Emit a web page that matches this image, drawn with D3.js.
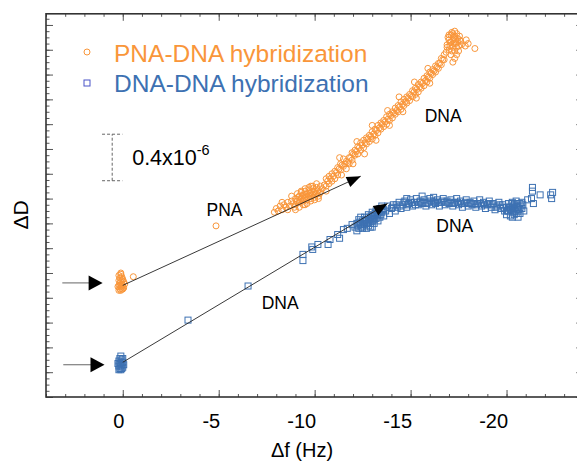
<!DOCTYPE html>
<html>
<head>
<meta charset="utf-8">
<script src="https://cdn.jsdelivr.net/npm/d3@7"></script>
<style>
  body { margin: 0; background: #fff; }
  svg text { font-family: "Liberation Sans", Arial, sans-serif; }
</style>
</head>
<body>
<div id="chart"></div>
<script>
// Δf (Hz), ΔD (x1e-6)
const pnaPoints = [
  // start, Δf ~ 0
  [0.1,0.99],[0.05,0.97],[0.15,0.96],[0.0,0.95],[0.2,0.94],[0.1,0.93],[-0.05,0.93],[0.15,0.92],
  [0.05,0.91],[0.2,0.9],[0.0,0.9],[0.1,0.89],[0.25,0.89],[-0.05,0.88],[0.15,0.87],[0.05,0.87],
  [0.2,0.86],[0.1,0.86],[0.0,0.87],[0.1,1.0],[0.2,0.98],[0.05,0.94],[0.15,0.9],[-0.1,0.91],
  [-0.55,0.97],
  [-4.86,1.38],
  // PNA plateau
  [-7.9,1.49],[-8.0,1.52],[-8.1,1.5],[-8.2,1.54],[-8.3,1.51],[-8.4,1.55],[-8.5,1.53],[-8.6,1.57],
  [-8.7,1.54],[-8.8,1.58],[-8.9,1.56],[-9.0,1.6],[-9.0,1.55],[-9.1,1.58],[-9.2,1.62],[-9.2,1.57],
  [-9.3,1.6],[-9.4,1.63],[-9.4,1.58],[-9.5,1.61],[-9.5,1.66],[-9.6,1.59],[-9.6,1.64],[-9.7,1.62],
  [-9.7,1.67],[-9.8,1.6],[-9.8,1.65],[-9.9,1.63],[-9.9,1.68],[-10.0,1.61],[-10.0,1.66],[-10.1,1.64],
  [-10.1,1.69],[-10.2,1.62],[-10.2,1.67],[-10.3,1.7],[-10.3,1.65],[-10.4,1.68],[-10.5,1.71],[-9.8,1.7],
  [-9.3,1.65],[-8.8,1.62],[-10.6,1.66],[-9.0,1.51],[-9.5,1.55],
  [-9.05,1.58],[-9.15,1.61],[-9.25,1.59],[-9.35,1.62],[-9.45,1.6],[-9.55,1.63],[-9.65,1.61],[-9.75,1.64],
  [-9.85,1.62],[-9.95,1.65],[-10.05,1.63],[-10.15,1.66],[-10.25,1.64],[-9.1,1.64],[-9.3,1.66],[-9.5,1.68],
  [-9.7,1.69],[-9.9,1.7],[-10.1,1.72],[-9.2,1.53],[-9.4,1.55],[-9.6,1.56],[-9.8,1.58],[-10.0,1.59],
  [-10.2,1.6],[-8.6,1.51],[-8.3,1.57],[-8.95,1.53],
  // DNA hybridization
  [-10.6,1.7],[-10.6,1.76],[-10.75,1.78],[-10.75,1.72],[-10.9,1.74],[-10.9,1.8],[-11.05,1.82],[-11.05,1.76],
  [-11.2,1.79],[-11.2,1.85],[-11.35,1.83],[-11.35,1.88],[-11.5,1.86],[-11.5,1.92],[-11.65,1.9],[-11.65,1.84],
  [-11.8,1.93],[-11.8,1.88],[-11.95,1.91],[-11.95,1.97],[-12.1,1.95],[-12.1,1.99],[-12.25,2.02],[-12.25,1.96],
  [-12.4,1.99],[-12.4,2.05],[-12.55,2.07],[-12.55,2.01],[-12.7,2.04],[-12.7,2.09],[-12.85,2.11],[-12.85,2.06],
  [-13.0,2.08],[-13.0,2.14],[-13.15,2.16],[-13.15,2.11],[-13.3,2.13],[-13.3,2.19],[-13.45,2.21],[-13.45,2.16],
  [-13.6,2.18],[-13.6,2.23],[-13.75,2.26],[-13.75,2.2],[-13.9,2.23],[-13.9,2.28],[-14.05,2.3],[-14.05,2.25],
  [-14.2,2.28],[-14.2,2.33],[-14.35,2.35],[-14.35,2.3],[-14.5,2.32],[-14.5,2.38],[-14.65,2.4],[-14.65,2.35],
  [-14.8,2.37],[-14.8,2.42],[-14.95,2.44],[-14.95,2.39],[-15.1,2.42],[-15.1,2.47],[-15.25,2.49],[-15.25,2.44],
  [-15.4,2.46],[-15.4,2.52],[-15.55,2.54],[-15.55,2.49],[-15.7,2.51],[-15.7,2.57],[-15.85,2.59],[-15.85,2.54],
  [-16.0,2.57],[-16.0,2.62],[-16.15,2.64],[-16.15,2.6],[-16.3,2.62],[-16.3,2.67],[-16.45,2.69],[-16.45,2.65],
  [-16.6,2.68],[-16.6,2.73],[-16.75,2.72],[-16.75,2.76],
  [-10.675,1.74],[-10.825,1.76],[-10.975,1.78],[-11.125,1.81],[-11.275,1.84],[-11.425,1.87],[-11.575,1.88],
  [-11.725,1.89],[-11.875,1.93],[-12.025,1.96],[-12.175,1.98],[-12.325,2.01],[-12.475,2.03],[-12.625,2.05],
  [-12.775,2.08],[-12.925,2.1],[-13.075,2.12],[-13.225,2.15],[-13.375,2.17],[-13.525,2.2],[-13.675,2.22],
  [-13.825,2.24],[-13.975,2.27],[-14.125,2.29],[-14.275,2.31],[-14.425,2.34],[-14.575,2.36],[-14.725,2.38],
  [-14.875,2.41],[-15.025,2.43],[-15.175,2.46],[-15.325,2.48],[-15.475,2.5],[-15.625,2.53],[-15.775,2.55],
  [-15.925,2.58],[-16.075,2.61],[-16.225,2.63],[-16.375,2.66],[-16.525,2.69],[-16.675,2.72],
  [-11.4,1.79],[-12.0,1.88],[-12.6,1.96],[-13.2,2.07],[-13.9,2.19],[-14.6,2.3],[-15.3,2.41],[-16.0,2.53],
  [-11.3,1.93],[-12.2,2.06],[-13.0,2.19],[-13.8,2.31],[-14.4,2.42],[-15.2,2.54],[-15.9,2.65],
  // top
  [-16.85,2.78],[-17.0,2.8],[-17.1,2.76],[-17.2,2.82],[-17.3,2.79],[-16.9,2.84],[-17.05,2.86],[-17.2,2.88],
  [-17.35,2.85],[-17.5,2.83],[-16.95,2.9],[-17.1,2.92],[-17.3,2.91],[-17.45,2.89],[-17.6,2.87],[-17.0,2.88],
  [-17.4,2.93],[-17.55,2.91],[-17.15,2.94],[-17.25,2.85],[-17.65,2.84],[-17.5,2.79],[-17.4,2.76],[-17.3,2.73],
  [-17.2,2.7],
  [-16.9,2.82],[-17.05,2.83],[-17.15,2.79],[-17.25,2.9],[-17.35,2.88],[-17.45,2.86],[-17.55,2.88],[-17.0,2.92],
  [-17.2,2.93],[-17.4,2.82],[-17.3,2.95],[-17.1,2.86],
  [-17.85,2.83],[-18.0,2.85],[-18.35,2.81],[-17.9,2.88]
];

const dnaPoints = [
  [0.1,0.33],[0.15,0.31],[0.05,0.3],[0.2,0.29],[0.1,0.28],[0.0,0.28],[0.15,0.27],[0.05,0.26],
  [0.2,0.25],[0.1,0.25],[0.0,0.24],[0.15,0.23],[0.05,0.23],[0.2,0.22],[0.1,0.22],[-0.05,0.26],
  [0.25,0.27],[0.0,0.31],
  [-3.4,0.62],[-6.53,0.895],[-9.39,1.15],[-9.39,1.1],[-9.9,1.19],
  [-9.85,1.21],[-10.17,1.23],[-10.7,1.23],[-10.8,1.27],[-11.2,1.31],[-11.3,1.28],[-11.5,1.35],[-11.7,1.36],
  [-11.95,1.39],
  [-12.1,1.37],[-12.2,1.4],[-12.3,1.36],[-12.3,1.43],[-12.4,1.39],[-12.5,1.42],[-12.5,1.36],[-12.6,1.45],
  [-12.6,1.39],[-12.7,1.42],[-12.8,1.47],[-12.8,1.38],[-12.9,1.44],[-12.9,1.4],[-13.0,1.49],[-13.0,1.42],
  [-13.1,1.46],[-13.1,1.4],[-13.2,1.5],[-13.2,1.44],[-13.3,1.47],[-13.3,1.42],[-13.4,1.52],[-13.4,1.45],
  [-13.5,1.49],[-13.5,1.54],[-13.6,1.51],[-12.7,1.36],[-13.0,1.37],[-12.4,1.45],[-12.2,1.34],[-13.6,1.46],
  [-12.25,1.38],[-12.35,1.41],[-12.45,1.37],[-12.55,1.4],[-12.65,1.43],[-12.75,1.4],[-12.85,1.43],[-12.95,1.46],
  [-13.05,1.44],[-13.15,1.48],[-13.25,1.46],[-13.35,1.49],[-13.45,1.47],[-13.55,1.52],[-12.8,1.45],[-13.0,1.46],
  [-13.2,1.48],[-12.6,1.42],[-12.9,1.37],[-13.1,1.43],
  [-13.7,1.5],[-13.8,1.54],[-13.9,1.48],[-14.0,1.52],[-14.1,1.55],[-14.2,1.5],[-14.3,1.53],[-14.4,1.57],
  [-14.5,1.52],[-14.6,1.55],[-14.7,1.58],[-14.8,1.53],[-14.9,1.56],[-15.0,1.59],[-15.1,1.54],[-15.2,1.57],
  [-15.3,1.6],[-15.4,1.55],[-15.5,1.58],[-15.6,1.56],[-15.7,1.59],[-15.8,1.54],[-15.9,1.57],[-16.0,1.6],
  [-16.1,1.55],[-16.2,1.58],[-16.3,1.56],[-16.4,1.59],[-16.5,1.54],[-16.6,1.57],[-16.7,1.6],[-16.8,1.55],
  [-16.9,1.58],[-17.0,1.56],[-17.1,1.59],[-17.2,1.54],[-17.3,1.57],[-17.4,1.6],[-17.5,1.55],[-17.6,1.58],
  [-17.7,1.53],[-17.8,1.56],[-17.9,1.59],[-18.0,1.54],[-18.1,1.57],[-18.2,1.55],[-18.3,1.58],[-18.4,1.53],
  [-18.5,1.56],[-18.6,1.59],[-18.7,1.54],[-18.8,1.57],[-18.9,1.52],[-19.0,1.55],[-19.1,1.58],[-19.2,1.53],
  [-19.3,1.56],[-19.4,1.51],[-19.5,1.54],[-19.6,1.57],[-19.7,1.52],[-19.8,1.55],
  [-14.8,1.6],[-15.6,1.62],[-16.2,1.61],
  [-14.05,1.53],[-14.25,1.55],[-14.45,1.54],[-14.65,1.57],[-14.85,1.55],[-15.05,1.57],[-15.25,1.55],[-15.45,1.57],
  [-15.65,1.57],[-15.85,1.56],[-16.05,1.58],[-16.25,1.57],[-16.45,1.57],[-16.65,1.58],[-16.85,1.57],[-17.05,1.57],
  [-17.25,1.56],[-17.45,1.57],[-17.65,1.56],[-17.85,1.57],[-18.05,1.56],[-18.25,1.56],[-18.45,1.55],[-18.65,1.56],
  [-18.85,1.55],[-19.05,1.56],[-19.25,1.55],[-19.45,1.53],[-19.65,1.55],[-19.85,1.53],
  [-19.9,1.5],[-20.0,1.53],[-20.0,1.47],[-20.1,1.56],[-20.1,1.5],[-20.2,1.53],[-20.2,1.46],[-20.3,1.57],
  [-20.3,1.49],[-20.4,1.52],[-20.4,1.55],[-20.5,1.48],[-20.5,1.58],[-20.6,1.51],[-20.6,1.54],[-20.7,1.48],
  [-20.7,1.56],[-20.8,1.52],[-20.8,1.57],[-20.9,1.5],[-20.3,1.45],[-20.6,1.45],
  [-20.05,1.5],[-20.15,1.53],[-20.25,1.51],[-20.35,1.54],[-20.45,1.5],[-20.55,1.53],[-20.65,1.51],[-20.75,1.54],
  [-20.85,1.55],[-20.25,1.56],[-20.55,1.56],[-20.4,1.47],
  [-21.1,1.59],[-21.3,1.6],[-21.4,1.56],[-21.35,1.66],[-21.35,1.69],[-21.75,1.63],[-22.3,1.63],[-22.35,1.6],
  [-22.4,1.65]
];

const xMajorTicks = [0, -5, -10, -15, -20];
const yMajorStep = 0.2;
const seriesNames = ["PNA-DNA hybridization", "DNA-DNA hybridization"];
const seriesColors = ["#f9963a", "#3d71b2"];

// guide lines with arrow heads: [start, end]
const guideLines = [
  [[0, 0.9], [-12.4, 1.78]],
  [[0, 0.28], [-13.8, 1.56]]
];
const startArrows = [
  [[3.15, 0.92], [1.05, 0.92]],
  [[3.1, 0.26], [0.95, 0.26]]
];
const notes = [
  { text: "PNA", at: [-5.3, 1.46] },
  { text: "DNA", at: [-8.2, 0.71] },
  { text: "DNA", at: [-17.3, 1.33] },
  { text: "DNA", at: [-16.7, 2.22] }
];
const scaleBar = { x: 0.55, from: 1.744, to: 2.119, capFrom: 1.08, capTo: 0.02 };

const width = 577, height = 463;
const svg = d3.select("#chart").append("svg")
  .attr("width", width).attr("height", height);

const x = d3.scaleLinear().domain([4, -24]).range([46, 583.3]);
const y = d3.scaleLinear().domain([0, 3.09]).range([397, 13.8]);

const tickColor = "#555";

// minor + major ticks, all pointing inward
const xMinor = d3.range(4, -25, -1);
const yMinor = d3.range(0, 3.09, 0.05);
const yMajor = d3.range(0, 3.09, yMajorStep);

function axisG(axis) {
  const g = svg.append("g").call(axis);
  g.select(".domain").remove();
  g.selectAll("line").attr("stroke", tickColor);
  return g;
}

axisG(d3.axisBottom(x).tickValues(xMinor).tickSizeInner(-3).tickFormat(""))
  .attr("transform", `translate(0,${y(0)})`);
const xb = axisG(d3.axisBottom(x).tickValues(xMajorTicks).tickSizeInner(-7).tickFormat(d => String(d)))
  .attr("transform", `translate(0,${y(0)})`);
xb.selectAll("text")
  .attr("y", 31).attr("dy", 0).attr("dx", 1)
  .attr("text-anchor", "end")
  .attr("fill", "#000")
  .style("font-size", "20px")
  .style("font-family", "Liberation Sans, Arial, sans-serif");

axisG(d3.axisTop(x).tickValues(xMinor).tickSizeInner(-3).tickFormat(""))
  .attr("transform", `translate(0,${y.range()[1]})`);
axisG(d3.axisTop(x).tickValues(xMajorTicks).tickSizeInner(-7).tickFormat(""))
  .attr("transform", `translate(0,${y.range()[1]})`);

axisG(d3.axisLeft(y).tickValues(yMinor).tickSizeInner(-3.5).tickFormat(""))
  .attr("transform", `translate(${x.range()[0]},0)`);
axisG(d3.axisLeft(y).tickValues(yMajor).tickSizeInner(-7).tickFormat(""))
  .attr("transform", `translate(${x.range()[0]},0)`);
axisG(d3.axisRight(y).tickValues(yMajor).tickSizeInner(-7).tickFormat(""))
  .attr("transform", `translate(${x.range()[1]},0)`);

// frame
svg.append("rect")
  .attr("x", x.range()[0]).attr("y", y.range()[1])
  .attr("width", x.range()[1] - x.range()[0])
  .attr("height", y.range()[0] - y.range()[1])
  .attr("fill", "none").attr("stroke", "#333").attr("stroke-width", 1.6);

// axis titles
svg.append("text")
  .attr("x", 302).attr("y", 457)
  .attr("text-anchor", "middle").style("font-size", "20px")
  .text("Δf (Hz)");
svg.append("text")
  .attr("transform", `translate(28,${215}) rotate(-90)`)
  .attr("text-anchor", "middle").style("font-size", "21px")
  .text("ΔD");

// data
const plot = svg.append("g");
plot.append("g").selectAll("circle")
  .data(pnaPoints).join("circle")
  .attr("cx", d => x(d[0])).attr("cy", d => y(d[1]))
  .attr("r", 3)
  .attr("fill", "none").attr("stroke", seriesColors[0]).attr("stroke-width", 1);

plot.append("g").selectAll("rect")
  .data(dnaPoints).join("rect")
  .attr("x", d => x(d[0]) - 3).attr("y", d => y(d[1]) - 3)
  .attr("width", 6).attr("height", 6)
  .attr("fill", "none").attr("stroke", seriesColors[1]).attr("stroke-width", 1);

// arrows
function arrowHead(tip, from, len, half) {
  const dx = tip[0] - from[0], dy = tip[1] - from[1];
  const l = Math.hypot(dx, dy), ux = dx / l, uy = dy / l;
  const bx = tip[0] - ux * len, by = tip[1] - uy * len;
  return [[tip[0], tip[1]], [bx - uy * half, by + ux * half], [bx + uy * half, by - ux * half]];
}

guideLines.forEach(([a, b]) => {
  const p0 = [x(a[0]), y(a[1])], p1 = [x(b[0]), y(b[1])];
  svg.append("line")
    .attr("x1", p0[0]).attr("y1", p0[1]).attr("x2", p1[0]).attr("y2", p1[1])
    .attr("stroke", "#222").attr("stroke-width", 0.9);
  svg.append("polygon")
    .attr("points", arrowHead(p1, p0, 14, 5.5).join(" "))
    .attr("fill", "#000");
});

startArrows.forEach(([a, b]) => {
  const p0 = [x(a[0]), y(a[1])], p1 = [x(b[0]), y(b[1])];
  svg.append("line")
    .attr("x1", p0[0]).attr("y1", p0[1]).attr("x2", p1[0] - 12).attr("y2", p1[1])
    .attr("stroke", "#666").attr("stroke-width", 1);
  svg.append("polygon")
    .attr("points", arrowHead(p1, p0, 14, 7.5).join(" "))
    .attr("fill", "#000");
});

// notes
svg.append("g").selectAll("text")
  .data(notes).join("text")
  .attr("x", d => x(d.at[0])).attr("y", d => y(d.at[1]))
  .attr("text-anchor", "middle")
  .style("font-size", "17.5px")
  .text(d => d.text);

// scale bar
const sb = svg.append("g").attr("stroke", "#666").attr("stroke-width", 1)
  .attr("stroke-dasharray", "3,2").attr("fill", "none");
sb.append("line").attr("x1", x(scaleBar.x)).attr("x2", x(scaleBar.x))
  .attr("y1", y(scaleBar.from)).attr("y2", y(scaleBar.to));
[scaleBar.from, scaleBar.to].forEach(v => {
  sb.append("line").attr("x1", x(scaleBar.capFrom)).attr("x2", x(scaleBar.capTo))
    .attr("y1", y(v)).attr("y2", y(v));
});
const sbText = svg.append("text")
  .attr("x", x(scaleBar.x) + 20).attr("y", 165)
  .style("font-size", "21.5px");
sbText.append("tspan").text("0.4x10");
sbText.append("tspan").attr("dy", -10).style("font-size", "14.5px").text("-6");

// legend
const legend = svg.append("g").attr("transform", "translate(87,0)");
legend.append("circle").attr("cx", 0).attr("cy", 52).attr("r", 3)
  .attr("fill", "none").attr("stroke", seriesColors[0]);
legend.append("rect").attr("x", -3).attr("y", 80).attr("width", 6).attr("height", 6)
  .attr("fill", "none").attr("stroke", "#4a55c8");
legend.selectAll("text.lab")
  .data(seriesNames).join("text")
  .attr("class", "lab")
  .attr("x", 27).attr("y", (d, i) => 61.5 + i * 30)
  .attr("fill", (d, i) => seriesColors[i])
  .style("font-size", "24.5px")
  .text(d => d);
</script>
</body>
</html>
